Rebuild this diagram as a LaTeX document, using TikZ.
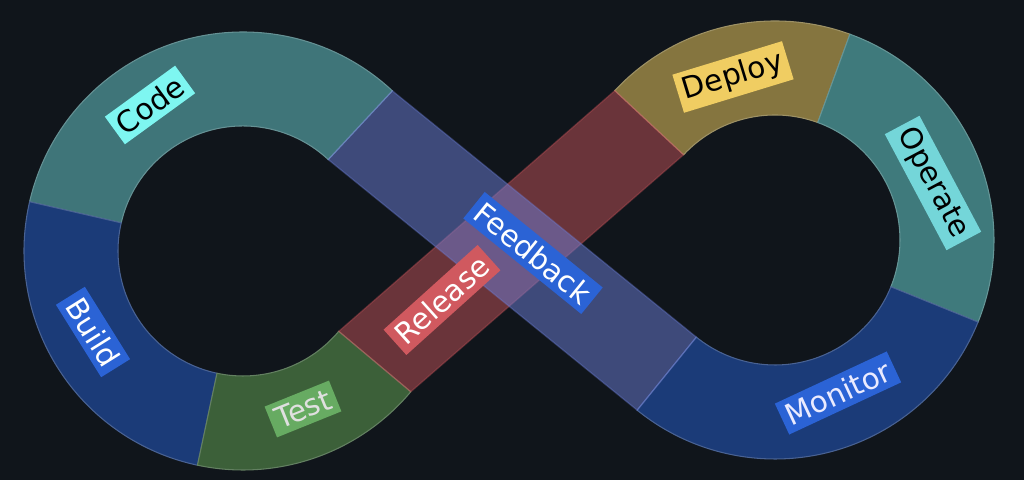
\documentclass[tikz,border=0pt]{standalone}
\usepackage{fontspec}
\setmainfont{DejaVu Sans}
\usetikzlibrary{calc}

\definecolor{bgdark}{HTML}{10151B}
\definecolor{codering}{HTML}{3F7579}
\definecolor{codetag}{HTML}{7EF6F1}
\definecolor{buildring}{HTML}{1B3B78}
\definecolor{bluetag}{HTML}{2B63D5}
\definecolor{testring}{HTML}{3C6039}
\definecolor{testtag}{HTML}{67AB62}
\definecolor{deployring}{HTML}{85753F}
\definecolor{deploytag}{HTML}{F0CD62}
\definecolor{operatering}{HTML}{3F7A7C}
\definecolor{operatetag}{HTML}{74D6D9}
\definecolor{releaseband}{HTML}{C55359}
\definecolor{releasetag}{HTML}{D0595F}
\definecolor{feedbackband}{HTML}{6D7FD9}

\newcommand{\ringin}{1.25}
\newcommand{\ringout}{2.19}
% one coloured piece of a ring: centre, from angle, to angle, colour
\newcommand{\ringpart}[4]{%
  \filldraw[seg, fill=#4, draw=#4!80!white]
    ($(#1)+(#2:\ringout)$) arc[start angle=#2, end angle=#3, radius=\ringout]
    -- ($(#1)+(#3:\ringin)$) arc[start angle=#3, end angle=#2, radius=\ringin] -- cycle;}

\begin{document}
\begin{tikzpicture}[
    seg/.style={line width=0.3pt},
    band/.style={fill opacity=0.5, draw opacity=0.35, line width=0.4pt},
    tag/.style={inner sep=1.6pt, font=\fontsize{8.4}{10}\selectfont}]
  \fill[bgdark] (0,0) rectangle (10.24,4.8);
  \useasboundingbox (0,0) rectangle (10.24,4.8);

  \coordinate (lc) at (2.43,2.29);
  \coordinate (rc) at (7.75,2.40);

  % left loop
  \ringpart{lc}{47}{167}{codering}
  \ringpart{lc}{167}{258}{buildring}
  \ringpart{lc}{258}{320}{testring}
  % right loop
  \ringpart{rc}{70}{137}{deployring}
  \ringpart{rc}{-22}{70}{operatering}
  \ringpart{rc}{231}{338}{buildring}

  % crossing bands
  \filldraw[band, fill=releaseband, draw=releaseband]
    ($(lc)+(320:\ringout)$) -- ($(rc)+(137:\ringin)$)
    -- ($(rc)+(137:\ringout)$) -- ($(lc)+(320:\ringin)$) -- cycle;
  \filldraw[band, fill=feedbackband, draw=feedbackband]
    ($(lc)+(47:\ringout)$) -- ($(rc)+(231:\ringin)$)
    -- ($(rc)+(231:\ringout)$) -- ($(lc)+(47:\ringin)$) -- cycle;

  % labels
  \node[tag, fill=codetag, text=black, rotate=36] (code) at (1.50,3.75) {Code};
  \node[tag, fill=bluetag, text=white, rotate=-58] (build) at (0.93,1.48) {Build};
  \node[tag, fill=testtag, text=white!88!black, rotate=22] (test) at (3.03,0.71) {Test};
  \node[tag, fill=releasetag, text=white, rotate=42] (release) at (4.42,1.80) {Release};
  \node[tag, fill=bluetag, text=white, rotate=-39] (feedback) at (5.33,2.27) {Feedback};
  \node[tag, fill=deploytag, text=black, rotate=17] (deploy) at (7.33,4.03) {Deploy};
  \node[tag, fill=operatetag, text=black, rotate=-62] (operate) at (9.33,2.97) {Operate};
  \node[tag, fill=bluetag, text=white!92!blue, rotate=25] (monitor) at (8.38,0.87) {Monitor};
\end{tikzpicture}
\end{document}
